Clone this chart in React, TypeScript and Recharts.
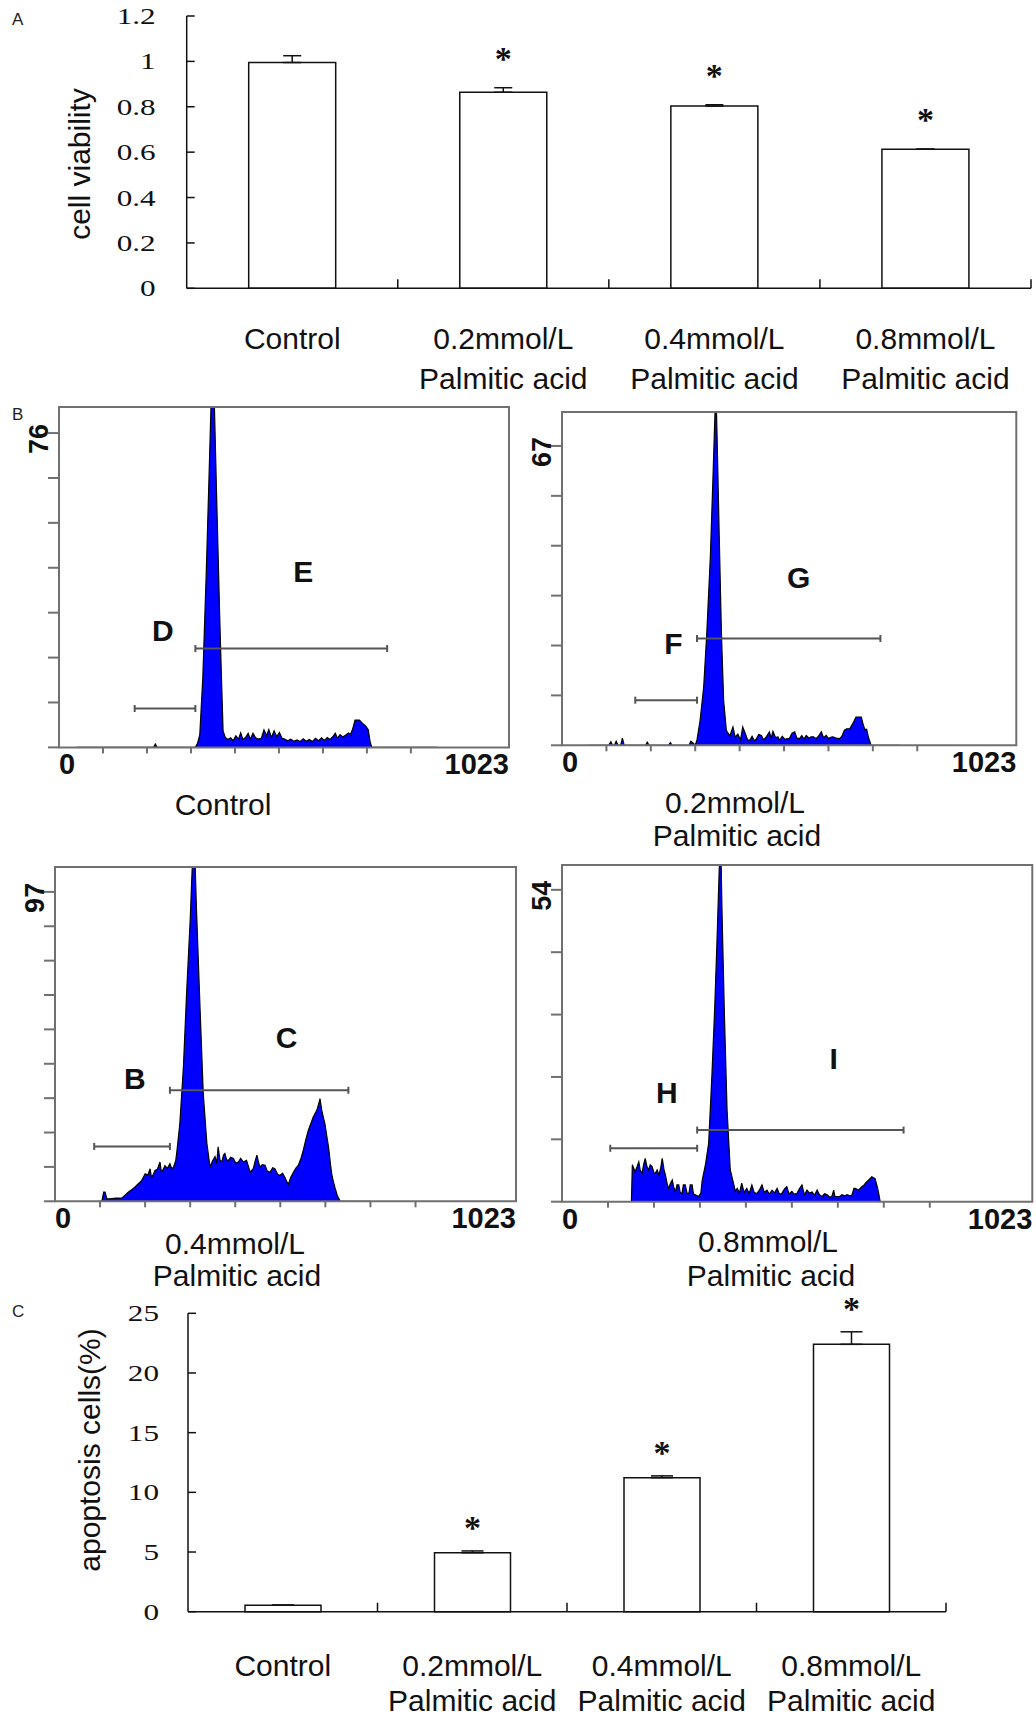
import React from 'react';
import {
  BarChart, Bar, XAxis, YAxis, ErrorBar, LabelList,
  AreaChart, Area, ReferenceArea, ReferenceLine, ReferenceDot,
} from 'recharts';

// ---- panel A / C data ----
const groups = ['Control', '0.2mmol/L', '0.4mmol/L', '0.8mmol/L'];
const viability = [0.995, 0.864, 0.803, 0.613];
const viabilityErr = [[0, 0.03], [0, 0.02], [0, 0.006], [0, 0]];
const apoptosis = [0.55, 4.94, 11.23, 22.4];
const apoptosisErr = [[0, 0], [0, 0.15], [0, 0.15], [0, 1.05]];
const significant = [false, true, true, true];
const viabilityTicks = [0, 0.2, 0.4, 0.6, 0.8, 1, 1.2];
const apoptosisTicks = [0, 5, 10, 15, 20, 25];

// ---- panel B histograms (channel, count) ----
const histControl = [
  [40, 0], [215, 0], [219, 0.8], [223, 0], [310, 0], [315, 1], [320, 3], [327, 17], [335, 43], [342, 69],
  [347, 88], [352, 88], [358, 62], [365, 33], [369, 18], [373, 4], [378, 2.4], [384, 1.9], [390, 2.3],
  [396, 1.6], [402, 2.8], [408, 2], [413, 3.5], [418, 1.9], [424, 2.4], [430, 3.4], [435, 2], [441, 3.4],
  [447, 2.3], [453, 2], [460, 2.2], [466, 4.2], [472, 2.8], [477, 4.3], [483, 2.4], [489, 4], [495, 2.6],
  [501, 3.6], [507, 2.2], [513, 2], [520, 1.6], [527, 2], [534, 1.5], [541, 1.8], [548, 1.4], [555, 2.1],
  [562, 1.5], [569, 1.9], [576, 1.4], [583, 2.2], [590, 1.6], [597, 2.3], [603, 1.7], [610, 2.4], [616, 1.9],
  [622, 2.5], [628, 3.4], [633, 2.2], [639, 3.1], [645, 2.5], [652, 3], [658, 3.5], [663, 3.2], [668, 4.6],
  [673, 6.6], [683, 6.6], [690, 5.8], [697, 5.2], [703, 4.3], [707, 1.5], [711, 0], [860, 0],
];
const hist02 = [
  [60, 0], [105, 0], [110, 0.8], [114, 0], [118, 0], [122, 0.9], [126, 0], [132, 0], [136, 1.6], [140, 0],
  [188, 0], [192, 0.7], [196, 0], [240, 0], [244, 0.6], [248, 0], [286, 0], [290, 0.9], [295, 0.5], [300, 0],
  [304, 1.2], [311, 5.6], [319, 13], [326, 25], [334, 42], [340, 60], [345, 76], [347, 78], [349, 70],
  [354, 47], [359, 25], [364, 10], [370, 3.4], [372, 3], [378, 2.1], [385, 4.1], [390, 1.8], [396, 2.5],
  [402, 1.2], [407, 4.1], [413, 2.6], [418, 1.2], [423, 1.1], [428, 2], [433, 1], [438, 1.5], [443, 2.4],
  [449, 2.2], [454, 1.2], [460, 1.9], [467, 3], [471, 1.6], [475, 3.1], [481, 1.7], [486, 1.9], [490, 1.1],
  [496, 2], [502, 1.3], [507, 1.5], [512, 1.5], [518, 2.7], [524, 3], [529, 1.6], [535, 1.5], [540, 2.2],
  [545, 1.4], [550, 2.2], [556, 1.6], [561, 1.9], [566, 1.9], [572, 1.5], [578, 2.1], [584, 3], [589, 1.7],
  [595, 2.2], [600, 1.5], [605, 1.8], [610, 1.9], [617, 1.6], [625, 1.5], [630, 2], [636, 3.4], [641, 3.7],
  [648, 3.7], [655, 4.9], [662, 6.3], [668, 6.3], [674, 6.3], [678, 4.7], [682, 3.5], [686, 3.6], [690, 1.8],
  [696, 0], [760, 0],
];
const hist04 = [
  [95, 0], [104, 0], [108, 2.9], [111, 2.9], [115, 0.8], [122, 0.8], [135, 1], [148, 1], [156, 2],
  [163, 2.9], [170, 3.6], [177, 4.4], [185, 5.5], [192, 6.5], [197, 7.8], [200, 8.6], [206, 8.2],
  [211, 10.2], [214, 7.5], [218, 8.4], [222, 9.7], [227, 10], [233, 12.3], [236, 9.1], [240, 10],
  [244, 11.2], [249, 10.3], [255, 11.8], [259, 10.2], [263, 10.7], [268, 12.8], [270, 15], [277, 24.4],
  [285, 42.2], [292, 65.2], [300, 88.2], [306, 110], [310, 110], [314, 91.3], [322, 60], [329, 33.7],
  [337, 18.2], [344, 10.7], [349, 12.5], [355, 14], [359, 12], [362, 17.1], [366, 13], [370, 12.3],
  [374, 14.5], [377, 15], [381, 13], [385, 12.8], [390, 13.8], [396, 13.4], [401, 12], [407, 12.3],
  [412, 13.5], [418, 12.3], [425, 12.8], [429, 11], [433, 9.1], [440, 10.2], [444, 12.5], [448, 14.5],
  [452, 12], [455, 10.7], [460, 11.5], [466, 11.3], [471, 9.5], [477, 9.1], [483, 10.5], [488, 10.2],
  [494, 8.5], [499, 8.1], [505, 8.8], [510, 7.5], [515, 6], [518, 5.4], [523, 7.5], [529, 9.1], [535, 10.5],
  [540, 11.3], [546, 13.5], [551, 16], [556, 19], [562, 22.2], [568, 24.5], [573, 26.4], [577, 27.5],
  [581, 28.5], [586, 31], [588, 32.2], [592, 28.5], [596, 26], [599, 24.3], [603, 20.5], [607, 17],
  [611, 12], [614, 8.6], [618, 6], [621, 4.4], [626, 2], [629, 1.1], [633, 0], [700, 0],
];
const hist08 = [
  [100, 0], [151, 0], [153, 6.4], [159, 5.2], [163, 6], [167, 6.9], [170, 5.5], [174, 4.9], [178, 6.6],
  [181, 7.5], [185, 6], [188, 5.5], [192, 6.4], [196, 6.1], [200, 5], [203, 4.9], [207, 5.5], [211, 4.6],
  [215, 6], [218, 7.5], [222, 5.5], [225, 4.6], [229, 3], [232, 2.3], [236, 3.2], [240, 3.75], [243, 2.5],
  [247, 1.7], [250, 2.9], [254, 2.9], [257, 1.6], [261, 1.4], [264, 2.9], [268, 2.9], [272, 1.5], [276, 1.4],
  [279, 2.9], [283, 2.9], [286, 1.3], [290, 1.2], [297, 0.9], [302, 1.5], [305, 3.75], [312, 6.4],
  [319, 10.1], [326, 21.7], [332, 33.2], [337, 44.8], [342, 57.5], [344, 61], [346, 59], [348, 50.5],
  [353, 33.2], [359, 15.9], [366, 5.5], [373, 3.2], [377, 1.8], [381, 2.3], [386, 1.5], [391, 3.2],
  [396, 1.6], [402, 2.3], [407, 1.4], [413, 2.9], [418, 1.6], [424, 1.4], [430, 2.1], [435, 2.9], [440, 1.6],
  [446, 2], [451, 1.3], [457, 2], [462, 1.5], [468, 2.3], [473, 1.3], [478, 1.4], [484, 2.2], [489, 2.6],
  [494, 1.3], [500, 1.8], [505, 1.3], [511, 1.4], [516, 2.2], [522, 2.9], [527, 1.2], [533, 2], [538, 1.5],
  [544, 1.7], [549, 1.1], [555, 2], [560, 1.2], [566, 0.9], [571, 1.4], [577, 1.2], [582, 0.8], [587, 0.9],
  [591, 2], [594, 0.8], [598, 0.9], [604, 0.9], [609, 1.2], [615, 1], [620, 1.2], [626, 1], [631, 1.2],
  [635, 2.3], [638, 2.3], [645, 2], [652, 2.6], [656, 2.8], [660, 3.2], [667, 3.75], [674, 4.3], [681, 4],
  [686, 2.5], [689, 1.4], [692, 0], [760, 0],
];

const histXTicks = [0, 100, 200, 300, 400, 500, 600, 700, 800, 1023];
const ticksControl = [0, 10.86, 21.71, 32.57, 43.43, 54.29, 65.14, 76];
const ticks02 = [0, 11.17, 22.33, 33.5, 44.67, 55.83, 67];
const ticks04 = [0, 10.78, 21.56, 32.33, 43.11, 53.89, 64.67, 75.44, 86.22, 97];
const ticks08 = [0, 10.8, 21.6, 32.4, 43.2, 54];

// marker gates: [from, to, level]
const gatesControl = [[172, 310, 9.4], [310, 746, 23.9]];
const gates02 = [[165, 304, 10.1], [304, 717, 23.9]];
const gates04 = [[87, 255, 17.2], [255, 651, 34.8]];
const gates08 = [[105, 294, 9.25], [294, 743, 12.4]];
// gate names: [channel, count, letter]
const namesControl: [number, number, string][] = [[236, 28.4, 'D'], [555, 42.5, 'E']];
const names02: [number, number, string][] = [[251, 22.8, 'F'], [533, 37.7, 'G']];
const names04: [number, number, string][] = [[177, 38.5, 'B'], [514, 51.5, 'C']];
const names08: [number, number, string][] = [[228, 19, 'H'], [591, 24.8, 'I']];

const SANS = "'Liberation Sans', Arial, Helvetica, sans-serif";
const SERIF = "'Liberation Serif', 'Times New Roman', serif";
const FRAME = '#707070';

const viabilityData = groups.map((g, i) => ({ group: g, value: viability[i], err: viabilityErr[i] }));
const apoptosisData = groups.map((g, i) => ({ group: g, value: apoptosis[i], err: apoptosisErr[i] }));

const SerifTick = ({ x, y, payload, gap }: any) => {
  const ax = x - gap;
  return (
    <g>
      <line x1={x} x2={x + 8} y1={y} y2={y} stroke="#111" strokeWidth={1.5} />
      <text x={ax} y={y + 8} textAnchor="end" fontFamily={SERIF} fontSize={24} fill="#111"
        transform={`translate(${ax} 0) scale(1.3 1) translate(${-ax} 0)`}>{String(payload.value)}</text>
    </g>
  );
};

// category label plus the small upward mark at the right edge of each group band
const GroupTick = ({ x, y, payload, first, second }: any) => {
  const half = typeof payload.offset === 'number' ? payload.offset : 0;
  return (
    <g>
      {half > 0 && <line x1={x + half} x2={x + half} y1={y} y2={y - 9} stroke="#111" strokeWidth={1.5} />}
      <text x={x} y={y + first} textAnchor="middle" fontFamily={SANS} fontSize={30} fill="#111">{payload.value}</text>
      {payload.value !== 'Control' && (
        <text x={x} y={y + second} textAnchor="middle" fontFamily={SANS} fontSize={30} fill="#111">Palmitic acid</text>
      )}
    </g>
  );
};

const makeStar = (values: number[], errs: number[][], gap: number) => (props: any) => {
  const vb = props.viewBox ?? props;
  const i = props.index ?? values.indexOf(props.value);
  if (i == null || i < 0 || !significant[i]) return null;
  const h = Math.abs(vb.height);
  const pxPerUnit = h / values[i];
  const top = Math.min(vb.y, vb.y + vb.height) - errs[i][1] * pxPerUnit - gap;
  return (
    <text x={vb.x + vb.width / 2} y={top + 16} textAnchor="middle" fontFamily={SERIF} fontWeight={700} fontSize={34} fill="#111">*</text>
  );
};

const HistXTick = ({ x, y, payload }: any) => {
  const v = payload.value;
  if (v === 0 || v === 1023) {
    return (
      <text x={x} y={y + 27} textAnchor={v === 0 ? 'start' : 'end'} fontFamily={SANS} fontWeight={700} fontSize={29} fill="#111">{v}</text>
    );
  }
  return <line x1={x} x2={x} y1={y} y2={y + 6} stroke={FRAME} strokeWidth={2} />;
};

const HistYTick = ({ x, y, payload, label }: any) => (
  <g>
    <line x1={x - 11} x2={x} y1={y} y2={y} stroke={FRAME} strokeWidth={2} />
    {payload.value === label && (
      <text transform={`translate(${x - 11} ${y + 6}) rotate(-90)`} textAnchor="middle" fontFamily={SANS} fontWeight={700} fontSize={27} fill="#111">{label}</text>
    )}
  </g>
);

const gateShape = (p: any) => (
  <g>
    <line x1={p.x1} y1={p.y1} x2={p.x2} y2={p.y2} stroke="#555" strokeWidth={2} />
    <line x1={p.x1} y1={p.y1 - 3.5} x2={p.x1} y2={p.y1 + 3.5} stroke="#555" strokeWidth={2} />
    <line x1={p.x2} y1={p.y2 - 3.5} x2={p.x2} y2={p.y2 + 3.5} stroke="#555" strokeWidth={2} />
  </g>
);

interface HistProps {
  data: number[][];
  left: number; top: number; width: number; height: number;
  yMax: number; yTicks: number[]; yLabel: number;
  gates: number[][]; names: [number, number, string][];
}

const Histogram: React.FC<HistProps> = ({ data, left, top, width, height, yMax, yTicks, yLabel, gates, names }) => {
  const rows = data.map(([x, y]) => ({ x, y }));
  return (
    <div style={{ position: 'absolute', left: left - 50, top: top - 10 }}>
      <AreaChart width={width + 54} height={height + 50} data={rows} margin={{ top: 10, right: 4, bottom: 39, left: 49 }}>
        <XAxis dataKey="x" type="number" domain={[0, 1023]} ticks={histXTicks} interval={0} allowDataOverflow
          height={1} tickSize={0} tickMargin={0} tickLine={false} axisLine={false} tick={<HistXTick />} />
        <YAxis type="number" domain={[0, yMax]} ticks={yTicks} interval={0} allowDataOverflow
          width={1} tickSize={0} tickMargin={0} tickLine={false} axisLine={false} tick={<HistYTick label={yLabel} />} />
        <Area type="linear" dataKey="y" fill="#0000ff" fillOpacity={1} stroke="#000" strokeWidth={1.2}
          dot={false} activeDot={false} isAnimationActive={false} />
        {gates.map(([a, b, lvl], i) => (
          <ReferenceLine key={i} segment={[{ x: a, y: lvl }, { x: b, y: lvl }]} shape={gateShape} />
        ))}
        {names.map(([cx, cy, t]) => (
          <ReferenceDot key={t} x={cx} y={cy} r={0} fill="none" stroke="none"
            label={{ value: t, position: 'center', fontSize: 30, fontWeight: 700, fill: '#111', fontFamily: SANS }} />
        ))}
        <ReferenceArea x1={0} x2={1023} y1={0} y2={yMax} fill="none" fillOpacity={0} stroke={FRAME} strokeWidth={2} ifOverflow="visible" />
      </AreaChart>
    </div>
  );
};

const captions: { x: number; y: number; text: string }[] = [
  { x: 223, y: 815, text: 'Control' },
  { x: 735, y: 813, text: '0.2mmol/L' },
  { x: 737, y: 846, text: 'Palmitic acid' },
  { x: 235, y: 1254, text: '0.4mmol/L' },
  { x: 237, y: 1286, text: 'Palmitic acid' },
  { x: 768, y: 1252, text: '0.8mmol/L' },
  { x: 771, y: 1286, text: 'Palmitic acid' },
];

export default function App() {
  return (
    <div style={{ position: 'absolute', left: 0, top: 0, width: 1036, height: 1717, background: '#fff', overflow: 'hidden', fontFamily: SANS }}>
      {/* A: cell viability */}
      <div style={{ position: 'absolute', left: 0, top: 0 }}>
        <BarChart width={1036} height={400} data={viabilityData} margin={{ top: 16, right: 5, bottom: 110.7, left: 126.7 }}>
          <XAxis dataKey="group" height={1} interval={0} tickSize={0} tickMargin={0} tickLine={false}
            axisLine={{ stroke: '#111', strokeWidth: 1.5 }} tick={<GroupTick first={60.7} second={100.7} />} />
          <YAxis domain={[0, 1.2]} ticks={viabilityTicks} interval={0} width={60} tickSize={0} tickMargin={0}
            tickLine={false} axisLine={{ stroke: '#111', strokeWidth: 1.5 }} tick={<SerifTick gap={31} />} />
          <Bar dataKey="value" fill="#fff" stroke="#111" strokeWidth={1.5} barSize={87} isAnimationActive={false}>
            <ErrorBar dataKey="err" width={9} stroke="#111" strokeWidth={1.5} direction="y" />
            <LabelList content={makeStar(viability, viabilityErr, 34)} />
          </Bar>
        </BarChart>
      </div>

      {/* B: flow histograms */}
      <Histogram data={histControl} left={59.3} top={407.3} width={450} height={340.4} yMax={82.3}
        yTicks={ticksControl} yLabel={76} gates={gatesControl} names={namesControl} />
      <Histogram data={hist02} left={561.7} top={411.7} width={454.3} height={333.3} yMax={74.6}
        yTicks={ticks02} yLabel={67} gates={gates02} names={names02} />
      <Histogram data={hist04} left={55} top={866.7} width={461} height={334.3} yMax={104.8}
        yTicks={ticks04} yLabel={97} gates={gates04} names={names04} />
      <Histogram data={hist08} left={561.7} top={865} width={470.3} height={336.7} yMax={58.3}
        yTicks={ticks08} yLabel={54} gates={gates08} names={names08} />

      {/* C: apoptosis */}
      <div style={{ position: 'absolute', left: 0, top: 1290 }}>
        <BarChart width={1036} height={427} data={apoptosisData} margin={{ top: 23.3, right: 90, bottom: 104.3, left: 128 }}>
          <XAxis dataKey="group" height={1} interval={0} tickSize={0} tickMargin={0} tickLine={false}
            axisLine={{ stroke: '#111', strokeWidth: 1.5 }} tick={<GroupTick first={64} second={99} />} />
          <YAxis domain={[0, 25]} ticks={apoptosisTicks} interval={0} width={60} tickSize={0} tickMargin={0}
            tickLine={false} axisLine={{ stroke: '#111', strokeWidth: 1.5 }} tick={<SerifTick gap={29} />} />
          <Bar dataKey="value" fill="#fff" stroke="#111" strokeWidth={1.5} barSize={76} isAnimationActive={false}>
            <ErrorBar dataKey="err" width={11} stroke="#111" strokeWidth={1.5} direction="y" />
            <LabelList content={makeStar(apoptosis, apoptosisErr, 28)} />
          </Bar>
        </BarChart>
      </div>

      {/* panel letters, axis titles, histogram captions */}
      <svg width={1036} height={1717} style={{ position: 'absolute', left: 0, top: 0, pointerEvents: 'none' }}>
        <g fontFamily={SANS} fill="#222" fontSize={17}>
          <text x={12} y={25}>A</text>
          <text x={12} y={420}>B</text>
          <text x={12} y={1317}>C</text>
        </g>
        <text transform="translate(89.5 164) rotate(-90)" textAnchor="middle" fontFamily={SANS} fontSize={30} fill="#111">cell viability</text>
        <text transform="translate(100 1450) rotate(-90)" textAnchor="middle" fontFamily={SANS} fontSize={30} fill="#111">apoptosis cells(%)</text>
        {captions.map((c, i) => (
          <text key={i} x={c.x} y={c.y} textAnchor="middle" fontFamily={SANS} fontSize={30} fill="#111">{c.text}</text>
        ))}
      </svg>
    </div>
  );
}
